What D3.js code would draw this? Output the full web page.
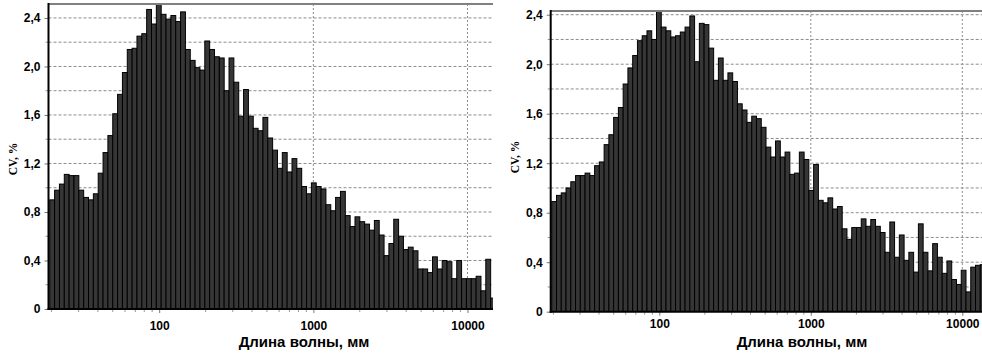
<!DOCTYPE html>
<html>
<head>
<meta charset="utf-8">
<script src="https://cdn.jsdelivr.net/npm/d3@7"></script>
<style>
  body { margin: 0; background: #fff; }
  svg { display: block; }
</style>
</head>
<body>
<svg id="chart" width="982" height="355"></svg>
<script>
// bins: log-spaced, same for both panels (about 32 per decade)
const binStart = 19.5;
const binStep = 0.03143; // decade per bin
const binEdges = d3.range(93).map(i => binStart * Math.pow(10, i * binStep));

// CV values, left panel
const cvLeft = [
  0.90, 0.98, 1.03, 1.11, 1.10, 1.10, 0.98, 0.92, 0.90, 0.95,
  1.12, 1.29, 1.43, 1.61, 1.77, 1.95, 2.14, 2.15, 2.25, 2.27,
  2.47, 2.35, 2.52, 2.43, 2.39, 2.42, 2.37, 2.45, 2.14, 2.05,
  1.99, 1.97, 2.21, 2.14, 2.08, 2.07, 1.80, 2.07, 1.87, 1.59,
  1.81, 1.59, 1.49, 1.47, 1.58, 1.41, 1.31, 1.16, 1.29, 1.13,
  1.24, 1.16, 1.01, 0.95, 1.04, 1.01, 0.99, 0.86, 0.81, 0.92,
  0.97, 0.77, 0.68, 0.76, 0.72, 0.70, 0.65, 0.73, 0.61, 0.44,
  0.54, 0.74, 0.60, 0.49, 0.51, 0.48, 0.33, 0.33, 0.30, 0.43,
  0.33, 0.40, 0.39, 0.25, 0.40, 0.25, 0.25, 0.25, 0.27, 0.15,
  0.41, 0.09
];

// CV values, right panel
const cvRight = [
  0.89, 0.94, 0.96, 1.00, 1.05, 1.10, 1.10, 1.12, 1.10, 1.18,
  1.21, 1.35, 1.43, 1.57, 1.65, 1.84, 1.97, 2.07, 2.19, 2.23,
  2.27, 2.20, 2.43, 2.30, 2.27, 2.22, 2.23, 2.26, 2.30, 2.39,
  2.02, 2.33, 2.32, 2.13, 1.87, 2.05, 1.87, 1.93, 1.86, 1.68,
  1.63, 1.53, 1.58, 1.56, 1.49, 1.33, 1.25, 1.38, 1.25, 1.29,
  1.11, 1.12, 1.29, 1.23, 0.98, 1.19, 0.90, 0.88, 0.92, 0.83,
  0.85, 0.67, 0.585, 0.68, 0.68, 0.75, 0.69, 0.745, 0.69, 0.64,
  0.48, 0.725, 0.44, 0.62, 0.415, 0.48, 0.32, 0.71, 0.48, 0.33,
  0.55, 0.44, 0.31, 0.41, 0.26, 0.22, 0.335, 0.16, 0.36, 0.375,
  0.38
];

const xTicks = [100, 1000, 10000];
const xMinor = [20, 30, 40, 50, 60, 70, 80, 90, 200, 300, 400, 500, 600, 700, 800, 900,
  2000, 3000, 4000, 5000, 6000, 7000, 8000, 9000];
const yTicks = [0, 0.4, 0.8, 1.2, 1.6, 2.0, 2.4];
const yGrid = [0.2, 0.4, 0.6, 0.8, 1.0, 1.2, 1.4, 1.6, 1.8, 2.0, 2.2, 2.4];
const xTitle = "Длина волны, мм";
const yTitle = "CV, %";

const svg = d3.select("#chart");

const panels = [
  { id: "l", values: cvLeft, x0: 48.5, x1: 493, x100: 159.2, x10000: 467.5,
    yTop: 4, yBot: 309, yMax: 2.515, labelPad: 8, titleX: 304, titleY: 347, yTitleX: 12.5, yTitleY: 159 },
  { id: "r", values: cvRight, x0: 550.7, x1: 990, x100: 659.3, x10000: 962.3,
    yTop: 11, yBot: 311.7, yMax: 2.43, labelPad: 3.5, titleX: 802, titleY: 347, yTitleX: 515, yTitleY: 157 }
];

const fmt = d => d === 0 ? "0" : d3.format(".1f")(d).replace(".", ",");

panels.forEach(p => {
  const base = d3.scaleLog().domain([100, 10000]).range([p.x100, p.x10000]);
  const x = d3.scaleLog().domain([base.invert(p.x0), base.invert(p.x1)]).range([p.x0, p.x1]);
  const y = d3.scaleLinear().domain([0, p.yMax]).range([p.yBot, p.yTop]);

  const g = svg.append("g");

  svg.append("clipPath").attr("id", "clip-" + p.id)
    .append("rect")
    .attr("x", p.x0).attr("y", p.yTop)
    .attr("width", p.x1 - p.x0).attr("height", p.yBot - p.yTop);

  // grid
  g.selectAll("line.hgrid")
    .data(yGrid)
    .join("line")
    .attr("class", "hgrid")
    .attr("x1", p.x0).attr("x2", p.x1)
    .attr("y1", d => y(d)).attr("y2", d => y(d))
    .attr("stroke", "#8c8c8c")
    .attr("stroke-dasharray", "3,2");

  g.selectAll("line.vgrid")
    .data(xTicks)
    .join("line")
    .attr("class", "vgrid")
    .attr("x1", d => x(d)).attr("x2", d => x(d))
    .attr("y1", p.yTop).attr("y2", p.yBot)
    .attr("stroke", "#8c8c8c")
    .attr("stroke-dasharray", "2,2");

  // bars
  g.append("g")
    .attr("clip-path", `url(#clip-${p.id})`)
    .selectAll("rect")
    .data(p.values)
    .join("rect")
    .attr("x", (d, i) => x(binEdges[i]))
    .attr("width", (d, i) => x(binEdges[i + 1]) - x(binEdges[i]))
    .attr("y", d => y(d))
    .attr("height", d => y(0) - y(d))
    .attr("fill", "#363636")
    .attr("stroke", "#000")
    .attr("stroke-width", 1);

  // y axis
  const yAxis = g.append("g")
    .attr("transform", `translate(${p.x0},0)`)
    .call(d3.axisLeft(y).tickValues(yTicks).tickSize(4).tickPadding(4).tickFormat(fmt));
  yAxis.select(".domain").remove();
  yAxis.selectAll("line").attr("stroke", "#777");
  yAxis.selectAll("text")
    .attr("font-family", "'Liberation Sans', Arial, sans-serif")
    .attr("font-weight", "bold")
    .attr("font-size", 12)
    .attr("fill", "#000");

  g.selectAll("line.yminor")
    .data(yGrid.filter(v => !yTicks.some(t => Math.abs(t - v) < 1e-6)))
    .join("line")
    .attr("class", "yminor")
    .attr("x1", p.x0 - 3).attr("x2", p.x0)
    .attr("y1", d => y(d)).attr("y2", d => y(d))
    .attr("stroke", "#999");

  // x axis
  const xAxis = g.append("g")
    .attr("transform", `translate(0,${p.yBot})`)
    .call(d3.axisBottom(x).tickValues(xTicks).tickSize(4).tickPadding(p.labelPad).tickFormat(d3.format("d")));
  xAxis.select(".domain").remove();
  xAxis.selectAll("line").attr("stroke", "#777");
  xAxis.selectAll("text")
    .attr("font-family", "'Liberation Sans', Arial, sans-serif")
    .attr("font-weight", "bold")
    .attr("font-size", 12)
    .attr("fill", "#000");

  g.selectAll("line.xminor")
    .data(xMinor)
    .join("line")
    .attr("class", "xminor")
    .attr("x1", d => x(d)).attr("x2", d => x(d))
    .attr("y1", p.yBot).attr("y2", p.yBot + 3)
    .attr("stroke", "#999");

  // frame lines
  g.append("line")
    .attr("x1", p.x0).attr("x2", p.x1)
    .attr("y1", p.yTop).attr("y2", p.yTop)
    .attr("stroke", "#808080").attr("stroke-width", 2);
  g.append("line")
    .attr("x1", p.x0).attr("x2", p.x0)
    .attr("y1", p.yTop - 1).attr("y2", p.yBot + 1)
    .attr("stroke", "#000").attr("stroke-width", 2);
  g.append("line")
    .attr("x1", p.x0 - 1).attr("x2", p.x1)
    .attr("y1", p.yBot).attr("y2", p.yBot)
    .attr("stroke", "#000").attr("stroke-width", 2);

  // titles
  g.append("text")
    .attr("x", p.titleX).attr("y", p.titleY)
    .attr("text-anchor", "middle")
    .attr("font-family", "'Liberation Sans', Arial, sans-serif")
    .attr("font-weight", "bold")
    .attr("font-size", 15)
    .text(xTitle);

  g.append("text")
    .attr("transform", `translate(${p.yTitleX},${p.yTitleY}) rotate(-90)`)
    .attr("text-anchor", "middle")
    .attr("dy", "0.35em")
    .attr("font-family", "'Liberation Serif', 'Times New Roman', serif")
    .attr("font-weight", "bold")
    .attr("font-size", 11.5)
    .text(yTitle);
});
</script>
</body>
</html>
